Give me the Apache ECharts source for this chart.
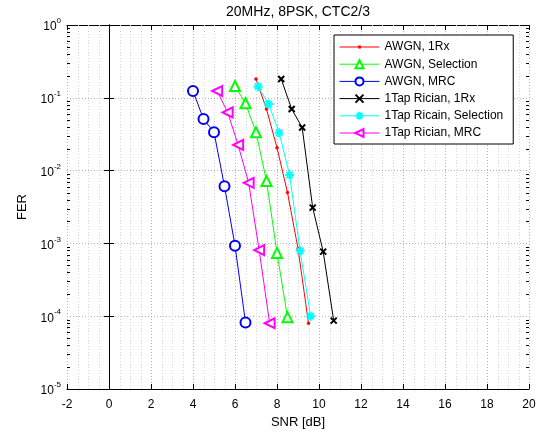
<!DOCTYPE html>
<html><head><meta charset="utf-8">
<script src="https://cdn.jsdelivr.net/npm/echarts@6/dist/echarts.min.js"></script>
<style>html,body{margin:0;padding:0;background:#fff}#c{width:546px;height:440px}</style>
</head><body><div id="c"></div>
<script>
// ---- data ----
const titleText = '20MHz, 8PSK, CTC2/3';
const xName = 'SNR [dB]';
const yName = 'FER';
const xTicks = [-2, 0, 2, 4, 6, 8, 10, 12, 14, 16, 18, 20];
const yTicks = [1, 0.1, 0.01, 0.001, 0.0001, 0.00001];

const seriesNames = ['AWGN, 1Rx', 'AWGN, Selection', 'AWGN, MRC', '1Tap Rician, 1Rx', '1Tap Ricain, Selection', '1Tap Rician, MRC'];

const awgn1RxSnr = [7.0, 7.5, 8.0, 8.5, 9.0, 9.5];
const awgn1RxFer = [0.181, 0.070, 0.0206, 0.0050, 0.00085, 0.000080];

const awgnSelSnr = [6.0, 6.5, 7.0, 7.5, 8.0, 8.5];
const awgnSelFer = [0.145, 0.084, 0.0336, 0.0072, 0.00074, 0.000097];

const awgnMrcSnr = [4.0, 4.5, 5.0, 5.5, 6.0, 6.5];
const awgnMrcFer = [0.124, 0.051, 0.0336, 0.0061, 0.00093, 0.000082];

const ric1RxSnr = [8.2, 8.7, 9.2, 9.7, 10.2, 10.7];
const ric1RxFer = [0.181, 0.070, 0.039, 0.0031, 0.00077, 0.000087];

const ricSelSnr = [7.1, 7.6, 8.1, 8.6, 9.1, 9.6];
const ricSelFer = [0.142, 0.082, 0.0332, 0.0087, 0.00079, 0.00010];

const ricMrcSnr = [5.15, 5.65, 6.15, 6.65, 7.15, 7.65];
const ricMrcFer = [0.124, 0.063, 0.0225, 0.0068, 0.00081, 0.000080];

const xMinorStep = 0.5;
const yMinorMant = [2, 3, 4, 5, 6, 7, 8, 9];
const yDecades = [1e-5, 1e-4, 1e-3, 1e-2, 1e-1];

// ---- build ----
const FONT = '"Liberation Sans", Arial, Helvetica, sans-serif';
const zip = (a, b) => a.map((v, i) => [v, b[i]]);
const yMinor = [];
yDecades.forEach(d => yMinorMant.forEach(m => yMinor.push(m * d)));
const xMinor = [];
for (let k = 0; k < xTicks.length - 1; k++) {
  for (let v = xTicks[k] + xMinorStep; v < xTicks[k + 1] - 1e-9; v += xMinorStep) xMinor.push(v);
}

const triLeft = 'emptypath://M0,5L10,0L10,10Z';
const xMark = 'emptypath://M0,0L10,10M0,10L10,0';
const starMark = 'emptypath://M5,0L5,10M0,5L10,5M1.5,1.5L8.5,8.5M1.5,8.5L8.5,1.5';
const colors = ['#ff0000', '#00ff00', '#0000ff', '#000000', '#00ffff', '#ff00ff'];

function mk(name, x, y, color, symbol, size) {
  return {
    name, type: 'line', data: zip(x, y), symbol, symbolSize: size,
    lineStyle: { color, width: 1 }, itemStyle: { color, borderColor: color, borderWidth: 0.5 },
    emphasis: { disabled: true }, animation: false, z: 5, clip: true
  };
}

const series = [
  mk(seriesNames[0], awgn1RxSnr, awgn1RxFer, colors[0], 'circle', 3),
  mk(seriesNames[1], awgnSelSnr, awgnSelFer, colors[1], 'emptyTriangle', 10),
  mk(seriesNames[2], awgnMrcSnr, awgnMrcFer, colors[2], 'emptyCircle', 10),
  mk(seriesNames[3], ric1RxSnr, ric1RxFer, colors[3], xMark, 6),
  mk(seriesNames[4], ricSelSnr, ricSelFer, colors[4], starMark, 9),
  mk(seriesNames[5], ricMrcSnr, ricMrcFer, colors[5], triLeft, 10)
];

// minor x grid (dotted faint)
series.push({
  type: 'custom', silent: true, animation: false, z: 1,
  data: xMinor.map(v => [v, 1]),
  renderItem: function (params, api) {
    const v = api.value(0);
    const a = api.coord([v, 1]); const b = api.coord([v, 1e-5]);
    const x = Math.round(a[0]) + 0.5;
    return { type: 'line', shape: { x1: x, y1: a[1], x2: x, y2: b[1] },
      style: { stroke: '#d4d4d4', lineWidth: 1, lineDash: [1, 2] } };
  }
});
// minor y ticks (left and right, inward)
series.push({
  type: 'custom', silent: true, animation: false, z: 6,
  data: yMinor.map(v => [-2, v]),
  renderItem: function (params, api) {
    const v = api.value(1);
    const a = api.coord([-2, v]); const b = api.coord([20, v]);
    const y = Math.round(a[1]) + 0.5;
    return { type: 'group', children: [
      { type: 'line', shape: { x1: a[0], y1: y, x2: a[0] + 3, y2: y }, style: { stroke: '#000', lineWidth: 1 } },
      { type: 'line', shape: { x1: b[0] - 3, y1: y, x2: b[0], y2: y }, style: { stroke: '#000', lineWidth: 1 } }
    ] };
  }
});

const legendData = seriesNames.map((n, i) => i === 0
  ? { name: n, icon: 'path://M0,4.6L40,4.6L40,5.4L0,5.4Z M18.6,3.6L21.4,3.6L21.4,6.4L18.6,6.4Z', itemStyle: { color: colors[0], borderWidth: 0 } }
  : { name: n });

const chart = echarts.init(document.getElementById('c'), null, { renderer: 'canvas' });
const axisLineStyle = { show: true, lineStyle: { color: '#000', width: 1 } };
const tickStyle = { show: true, inside: true, length: 5, lineStyle: { color: '#000', width: 1 } };

chart.setOption({
  animation: false,
  backgroundColor: '#fff',
  textStyle: { fontFamily: FONT },
  graphic: [{
    type: 'text', x: 298, y: 5, z: 10,
    style: { text: titleText, textAlign: 'center', fontFamily: FONT, fontSize: 14, fill: '#000' }
  }],
  grid: { left: 67, right: 17, top: 25, bottom: 51, outerBoundsMode: 'none', containLabel: false },
  legend: {
    data: legendData,
    orient: 'vertical', left: 334, top: 35,
    itemWidth: 40, itemHeight: 10, itemGap: 3.2,
    padding: [5, 10, 4, 5],
    backgroundColor: '#fff', borderColor: '#000', borderWidth: 1,
    lineStyle: { width: 1 },
    itemStyle: { borderWidth: 0.8 },
    textStyle: { fontFamily: FONT, fontSize: 12, color: '#000', lineHeight: 14 },
    selectedMode: false, z: 20
  },
  xAxis: [{
    type: 'value', min: -2, max: 20, interval: 2,
    name: xName, nameLocation: 'middle', nameGap: 26,
    nameTextStyle: { fontFamily: FONT, fontSize: 13, color: '#000' },
    axisLine: axisLineStyle, axisTick: tickStyle,
    axisLabel: { color: '#000', fontFamily: FONT, fontSize: 12, margin: 10 },
    splitLine: { show: true, lineStyle: { color: '#b4b4b4', type: [1, 2], width: 1 } }
  }, {
    type: 'value', min: -2, max: 20, interval: 2, position: 'top',
    axisLine: axisLineStyle, axisTick: tickStyle, axisLabel: { show: false }, splitLine: { show: false }
  }],
  yAxis: [{
    type: 'log', logBase: 10, min: 1e-5, max: 1,
    name: yName, nameLocation: 'middle', nameGap: 38, nameRotate: 90,
    nameTextStyle: { fontFamily: FONT, fontSize: 13, color: '#000' },
    axisLine: axisLineStyle, axisTick: tickStyle,
    axisLabel: {
      margin: 6,
      formatter: function (v) {
        const e = Math.round(Math.log10(v));
        return '{b|10}{s|' + e + '}';
      },
      rich: {
        b: { fontFamily: FONT, fontSize: 12, color: '#000', verticalAlign: 'bottom', padding: [4, 0, 0, 0] },
        s: { fontFamily: FONT, fontSize: 8, color: '#000', verticalAlign: 'top', padding: [0, 0, 8, 0] }
      }
    },
    splitLine: { show: true, lineStyle: { color: '#b4b4b4', type: [1, 2], width: 1 } }
  }, {
    type: 'log', logBase: 10, min: 1e-5, max: 1, position: 'right',
    axisLine: axisLineStyle, axisTick: tickStyle, axisLabel: { show: false }, splitLine: { show: false }
  }],
  series: series
});
</script>
</body></html>
